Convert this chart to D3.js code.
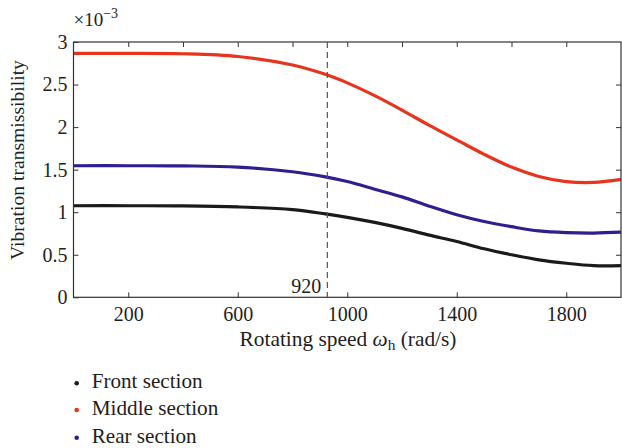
<!DOCTYPE html>
<html><head><meta charset="utf-8">
<script src="https://cdn.jsdelivr.net/npm/d3@7"></script>
<style>body{margin:0;background:#fff}svg{display:block}</style>
</head><body><svg id="c" width="622" height="448" font-family="Liberation Serif"></svg>
<script>
const speed = [0,200,400,600,800,920,1000,1100,1200,1300,1400,1500,1600,1700,1800,1900,2000];
const front = [1.076,1.076,1.074,1.062,1.03,0.98,0.94,0.88,0.81,0.73,0.655,0.57,0.50,0.44,0.40,0.372,0.372];
const middle = [2.867,2.867,2.862,2.83,2.73,2.62,2.52,2.37,2.20,2.02,1.85,1.68,1.53,1.42,1.36,1.35,1.385];
const rear = [1.546,1.546,1.544,1.53,1.475,1.415,1.36,1.27,1.18,1.07,0.97,0.89,0.83,0.78,0.76,0.755,0.765];
const seriesNames = ["Front section","Middle section","Rear section"];
const seriesColors = ["#1a1a1a","#e8341c","#2f1f8e"];
const xTickLabels = [200,600,1000,1400,1800];
const xMinorTicks = [200,400,600,800,1000,1200,1400,1600,1800];
const yTicks = [0,0.5,1,1.5,2,2.5,3];
const marker = 920;

const FONT = "Liberation Serif";
const TXT = "#1e1e1e";
const svg = d3.select("#c");
const L=73.5,R=621,T=42,B=297.3;
const x = d3.scaleLinear().domain([0,2000]).range([L,R]);
const y = d3.scaleLinear().domain([0,3]).range([B,T]);
const g = svg.append("g");

function styleText(sel,size){ sel.attr("font-family",FONT).style("font-family",FONT).style("font-size",size+"px").style("fill",TXT); return sel; }
function fit(sel,target){ const n=sel.node(); const w=n.getComputedTextLength(); const s=parseFloat(sel.style("font-size")); sel.style("font-size",(s*target/w)+"px"); }

// lines first (frame drawn over)
const data = [front,middle,rear];
const line = d3.line().x((d,i)=>x(speed[i])).y(d=>y(d)).curve(d3.curveCatmullRom.alpha(0.5));
svg.append("clipPath").attr("id","pc").append("rect").attr("x",L).attr("y",T-5).attr("width",R-L).attr("height",B-T+5);
data.forEach((s,k)=>{
  g.append("path").datum(s).attr("d",line).attr("fill","none").attr("clip-path","url(#pc)")
   .attr("stroke",seriesColors[k]).attr("stroke-width",3.2).attr("stroke-linejoin","round");
});

// frame
g.append("rect").attr("x",L).attr("y",T).attr("width",R-L).attr("height",B-T)
 .attr("fill","none").attr("stroke","#333").attr("stroke-width",1.2);

// bottom axis
const xa = g.append("g").attr("transform",`translate(0,${B})`)
 .call(d3.axisBottom(x).tickValues(xTickLabels).tickSize(-5).tickPadding(10).tickFormat(d3.format("d")));
xa.attr("font-family",FONT);
xa.select(".domain").remove();
xa.selectAll("line").attr("stroke","#333");
styleText(xa.selectAll("text"),20).attr("dy","0.71em");
// top ticks
const xt = g.append("g").attr("transform",`translate(0,${T})`)
 .call(d3.axisTop(x).tickValues(xMinorTicks).tickSize(-5).tickFormat(""));
xt.select(".domain").remove(); xt.selectAll("line").attr("stroke","#333");
// left axis
const ya = g.append("g").attr("transform",`translate(${L},0)`)
 .call(d3.axisLeft(y).tickValues(yTicks).tickSize(-5).tickPadding(6).tickFormat(d=>String(d)));
ya.attr("font-family",FONT);
ya.select(".domain").remove(); ya.selectAll("line").attr("stroke","#333");
styleText(ya.selectAll("text"),20);
// right ticks
const yr = g.append("g").attr("transform",`translate(${R},0)`)
 .call(d3.axisRight(y).tickValues(yTicks.slice(1,6)).tickSize(-5).tickFormat(""));
yr.select(".domain").remove(); yr.selectAll("line").attr("stroke","#333");

// exponent
const ex = styleText(g.append("text").attr("x",L).attr("y",26),19);
ex.append("tspan").text("×10");
ex.append("tspan").attr("dy",-8).style("font-size","14px").text("−3");

// marker line
g.append("line").attr("x1",x(marker)+2).attr("x2",x(marker)+2).attr("y1",T).attr("y2",B)
 .attr("stroke","#555").attr("stroke-width",1.2).attr("stroke-dasharray","6,4");
styleText(g.append("text").attr("x",x(marker)-4).attr("y",293).attr("text-anchor","end"),20).text(String(marker));

// axis labels
const yl = styleText(g.append("text").attr("transform",`translate(24,160) rotate(-90)`).attr("text-anchor","middle"),20).text("Vibration transmissibility");
fit(yl,200);
const xl = styleText(g.append("text").attr("x",348).attr("y",346).attr("text-anchor","middle"),20);
xl.append("tspan").text("Rotating speed ");
xl.append("tspan").style("font-style","italic").text("ω");
xl.append("tspan").style("font-size","0.72em").attr("dy",4).text("h");
xl.append("tspan").attr("dy",-4).text(" (rad/s)");
fit(xl,217);

// legend
const legendW = [111,126.7,105];
const legendY = [388.3,415,442.7];
seriesNames.forEach((n,k)=>{
  g.append("circle").attr("cx",76.7).attr("cy",legendY[k]-5).attr("r",2.3).attr("fill",seriesColors[k]);
  const t = styleText(g.append("text").attr("x",91.7).attr("y",legendY[k]),20).text(n);
  fit(t,legendW[k]);
});
</script></body></html>
